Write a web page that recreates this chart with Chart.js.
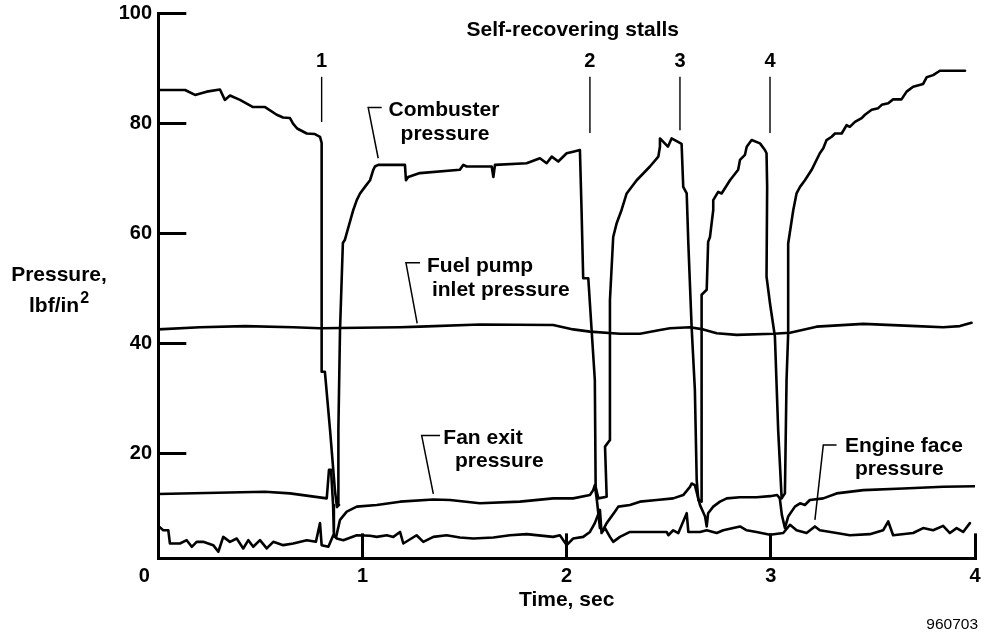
<!DOCTYPE html>
<html>
<head>
<meta charset="utf-8">
<script src="https://cdn.jsdelivr.net/npm/chart.js@4.4.1/dist/chart.umd.min.js"></script>
<style>
  html, body { margin: 0; padding: 0; background: #fff; }
  #wrap { width: 986px; height: 635px; position: relative; }
</style>
</head>
<body>
<div id="wrap"><canvas id="c"></canvas></div>
<script>
// ---- Data (time in sec, pressure in lbf/in^2) ----
const xTicks = [0, 1, 2, 3, 4];
const yTicks = [20, 40, 60, 80, 100];

const combTime = [0,0.131,0.180,0.237,0.302,0.326,0.351,0.400,0.464,0.523,0.580,0.611,0.645,0.660,0.680,0.727,0.767,0.792,0.800,0.800,0.816,0.841,0.865,0.875,0.885,0.882,0.890,0.904,0.914,0.955,0.972,0.988,1.012,1.037,1.053,1.061,1.077,1.208,1.213,1.224,1.281,1.477,1.494,1.510,1.633,1.641,1.649,1.804,1.869,1.902,1.927,1.959,2.000,2.032,2.065,2.073,2.081,2.106,2.138,2.142,2.155,2.196,2.188,2.212,2.212,2.212,2.228,2.245,2.269,2.294,2.343,2.408,2.449,2.457,2.457,2.496,2.514,2.563,2.571,2.588,2.596,2.612,2.628,2.637,2.645,2.661,2.661,2.686,2.693,2.702,2.718,2.718,2.742,2.759,2.800,2.840,2.849,2.873,2.882,2.906,2.947,2.971,2.979,2.982,2.979,2.996,3.020,3.036,3.053,3.069,3.077,3.085,3.085,3.110,3.126,3.143,3.167,3.200,3.240,3.257,3.273,3.298,3.314,3.347,3.371,3.387,3.412,3.445,3.461,3.494,3.526,3.543,3.575,3.599,3.640,3.665,3.697,3.746,3.763,3.795,3.828,3.951];
const combPressure = [86.1,86.1,85.2,85.8,86.2,84.3,85.1,84.3,83.0,83.0,81.6,81.1,81.0,80.0,79.1,78.2,78.1,77.6,76.5,34.9,34.9,24.4,13.4,10.3,10.7,24.3,42.5,58.3,58.9,64.3,66.1,67.3,68.5,69.7,71.6,72.2,72.5,72.5,69.7,70.3,71.0,71.6,72.5,72.2,72.2,70.3,72.5,72.8,73.7,72.8,74.0,73.1,74.6,74.9,75.2,64.3,51.9,51.9,33.4,14.0,11.9,12.2,21.3,22.5,33.4,47.9,59.4,61.9,64.3,67.3,69.7,72.2,74.0,75.8,77.3,75.8,77.3,76.3,68.5,67.3,58.2,43.1,31.6,15.2,11.6,11.3,48.9,49.8,58.5,59.4,64.3,66.1,67.6,67.3,69.7,71.6,73.4,74.3,75.8,77.0,76.4,75.2,74.6,68.5,52.2,47.3,41.3,24.3,11.9,12.8,33.4,41.9,58.2,64.3,67.3,68.5,69.7,71.6,74.6,75.5,77.0,77.6,78.2,78.2,79.7,79.4,80.3,81.0,81.6,82.5,82.8,83.4,83.7,84.4,84.4,85.8,86.7,87.2,88.4,88.8,89.6,89.6];

const fuelTime = [0,0.204,0.425,0.661,0.792,1.184,1.282,1.575,1.934,2.032,2.114,2.261,2.359,2.457,2.506,2.604,2.669,2.735,2.833,3.012,3.094,3.224,3.453,3.714,3.844,3.926,3.983];
const fuelPressure = [42.6,43.0,43.2,43.0,42.8,43.0,43.1,43.5,43.4,42.6,42.2,41.8,41.8,42.5,42.8,43.0,42.6,41.9,41.6,41.8,42.0,43.1,43.6,43.2,43.0,43.2,43.8];

const fanTime = [0,0.522,0.645,0.825,0.836,0.846,0.856,0.860,0.871,0.890,0.923,0.972,1.070,1.184,1.347,1.429,1.575,1.771,1.934,2.032,2.114,2.130,2.138,2.148,2.163,2.177,2.196,2.237,2.253,2.310,2.359,2.441,2.522,2.571,2.604,2.612,2.628,2.653,2.678,2.686,2.693,2.718,2.751,2.784,2.849,2.930,2.996,3.031,3.044,3.054,3.069,3.085,3.118,3.143,3.167,3.191,3.257,3.322,3.453,3.648,3.844,4.0];
const fanPressure = [12.7,13.1,12.8,11.9,17.1,17.1,10.7,5.2,4.9,8.0,9.5,10.4,10.7,11.3,11.7,11.6,11.0,11.3,11.9,11.9,12.5,13.4,14.3,11.6,6.5,6.1,7.4,9.5,10.4,10.7,11.3,11.6,11.9,12.5,14.0,14.6,14.3,10.7,8.6,6.8,9.2,10.4,11.3,11.9,12.1,12.1,12.3,12.5,11.9,8.9,6.5,8.6,10.4,11.0,10.7,11.6,11.9,12.8,13.4,13.7,14.0,14.1];

const faceTime = [0,0.024,0.049,0.057,0.106,0.139,0.164,0.188,0.220,0.269,0.294,0.318,0.351,0.384,0.416,0.441,0.465,0.498,0.531,0.563,0.612,0.661,0.727,0.772,0.792,0.800,0.833,0.857,0.874,0.906,0.972,1.037,1.070,1.119,1.151,1.184,1.200,1.265,1.298,1.347,1.412,1.477,1.543,1.641,1.722,1.804,1.934,1.967,2.000,2.032,2.081,2.114,2.138,2.163,2.171,2.188,2.212,2.228,2.261,2.310,2.408,2.490,2.498,2.522,2.547,2.588,2.596,2.653,2.686,2.735,2.767,2.849,2.882,2.930,2.996,3.061,3.094,3.126,3.175,3.216,3.240,3.322,3.387,3.485,3.550,3.575,3.599,3.697,3.746,3.795,3.844,3.877,3.910,3.942,3.975];
const facePressure = [6.9,6.1,6.1,3.7,3.7,4.3,3.1,4.0,4.0,3.4,2.2,4.9,4.0,4.6,2.8,4.3,3.1,4.3,2.8,4.0,3.4,3.7,4.3,4.0,7.4,3.4,3.1,5.2,4.6,4.3,5.2,5.1,4.9,5.2,4.9,5.8,3.7,5.2,4.0,4.9,5.2,4.8,4.6,4.8,5.2,5.4,4.9,5.2,3.4,4.6,4.9,5.8,7.4,9.8,5.6,6.5,4.9,4.0,4.9,5.8,5.8,5.8,5.2,6.1,5.6,9.2,5.8,5.8,6.1,5.6,6.1,6.8,6.1,5.8,5.3,5.6,7.1,6.1,5.6,6.8,6.1,5.6,5.2,5.4,6.1,7.7,5.2,5.6,6.5,6.1,6.9,5.6,6.5,5.8,7.4];

const stallLabels = ['1', '2', '3', '4'];
const stallTimes = [0.800, 2.114, 2.555, 2.996];

// ---- Build chart ----
const FAMILY = '"Liberation Sans", Arial, Helvetica, sans-serif';
Chart.defaults.color = '#000';
Chart.defaults.font.family = FAMILY;

function zip(t, p) { const n = Math.min(t.length, p.length); const out = []; for (let i = 0; i < n; i++) out.push({x: t[i], y: p[i]}); return out; }
function series(label, t, p) {
  return { label, data: zip(t, p), borderColor: '#000', borderWidth: 2.6, pointRadius: 0, tension: 0, fill: false, borderJoinStyle: 'round', borderCapStyle: 'round' };
}

const annotations = {
  title: { text: 'Self-recovering stalls', x: 2.030, y: 97.0 },
  stallLabelY: 91.2, stallLineTop: 88.5, stallLineBottom: [80.3, 78.3, 78.8, 78.3],
  notes: [
    { lines: [['Combuster', 1.399, 82.47], ['pressure', 1.404, 78.1]], align: 'center', leader: [[1.094, 82.9], [1.028, 82.9], [1.077, 73.7]] },
    { lines: [['Fuel pump', 1.316, 54.0], ['inlet pressure', 1.340, 49.8]], align: 'left', leader: [[1.282, 54.7], [1.213, 54.7], [1.268, 43.7]] },
    { lines: [['Fan exit', 1.396, 22.8], ['pressure', 1.453, 18.6]], align: 'left', leader: [[1.380, 23.3], [1.290, 23.3], [1.347, 12.7]] },
    { lines: [['Engine face', 3.363, 21.4], ['pressure', 3.412, 17.2]], align: 'left', leader: [[3.322, 21.6], [3.257, 21.6], [3.216, 8.0]] }
  ]
};

const annotPlugin = {
  id: 'annot',
  afterDraw(chart) {
    const {ctx, scales: {x, y}} = chart;
    const X = v => x.getPixelForValue(v), Y = v => y.getPixelForValue(v);
    ctx.save();
    ctx.fillStyle = '#000';
    ctx.strokeStyle = '#000';
    ctx.textBaseline = 'middle';
    ctx.font = 'bold 21px ' + FAMILY;
    ctx.textAlign = 'center';
    ctx.fillText(annotations.title.text, X(annotations.title.x), Y(annotations.title.y));
    ctx.font = 'bold 20px ' + FAMILY;
    ctx.lineWidth = 1.4;
    stallTimes.forEach((t, i) => {
      ctx.fillText(stallLabels[i], X(t), Y(annotations.stallLabelY));
      ctx.beginPath();
      ctx.moveTo(X(t), Y(annotations.stallLineTop));
      ctx.lineTo(X(t), Y(annotations.stallLineBottom[i]));
      ctx.stroke();
    });
    ctx.font = 'bold 21px ' + FAMILY;
    annotations.notes.forEach(n => {
      ctx.textAlign = n.align;
      n.lines.forEach(([txt, tx, ty]) => { ctx.fillText(txt, X(tx), Y(ty)); });
      ctx.lineWidth = 1.5;
      ctx.beginPath();
      n.leader.forEach(([lx, ly], k) => { if (k === 0) ctx.moveTo(X(lx), Y(ly)); else ctx.lineTo(X(lx), Y(ly)); });
      ctx.stroke();
    });
    // y-axis title (horizontal)
    ctx.textAlign = 'center';
    ctx.font = 'bold 21px ' + FAMILY;
    const cx = 59;
    ctx.fillText('Pressure,', cx, 275);
    const base = 'lbf/in';
    const wBase = ctx.measureText(base).width;
    ctx.font = 'bold 16px ' + FAMILY;
    const wSup = ctx.measureText('2').width;
    const startX = cx - (wBase + wSup + 1) / 2;
    ctx.textAlign = 'left';
    ctx.font = 'bold 21px ' + FAMILY;
    ctx.fillText(base, startX, 306);
    ctx.font = 'bold 16px ' + FAMILY;
    ctx.fillText('2', startX + wBase + 1, 299);
    ctx.textAlign = 'right';
    ctx.font = '15.5px ' + FAMILY;
    ctx.fillText('960703', 978, 625);
    ctx.restore();
  }
};

new Chart(document.getElementById('c'), {
  type: 'line',
  data: {
    datasets: [
      series('Combuster pressure', combTime, combPressure),
      series('Fuel pump inlet pressure', fuelTime, fuelPressure),
      series('Fan exit pressure', fanTime, fanPressure),
      series('Engine face pressure', faceTime, facePressure)
    ]
  },
  options: {
    responsive: true,
    maintainAspectRatio: false,
    animation: false,
    layout: { padding: { top: 13.5, right: 11, left: 0, bottom: 0 } },
    plugins: { legend: { display: false }, tooltip: { enabled: false }, title: { display: false } },
    scales: {
      x: {
        type: 'linear', min: 0, max: 4,
        afterBuildTicks: s => { s.ticks = xTicks.map(v => ({ value: v })); },
        afterFit: s => { s.height = 635 - 558.35; s.paddingLeft = 0; s.paddingRight = 0; },
        ticks: {
          callback: v => (v === 0 ? '0     ' : String(v)),
          font: { size: 20, weight: 'bold', family: FAMILY }, color: '#000',
          padding: 31.6, maxRotation: 0, autoSkip: false
        },
        grid: { drawOnChartArea: false, drawTicks: true, tickLength: -25, color: '#000', lineWidth: 3 },
        border: { display: true, color: '#000', width: 3 },
        title: { display: true, text: 'Time, sec', color: '#000', font: { size: 21, weight: 'bold', family: FAMILY }, padding: { top: 0, bottom: 22 } }
      },
      y: {
        type: 'linear', min: 1, max: 100,
        afterBuildTicks: s => { s.ticks = yTicks.map(v => ({ value: v })); },
        afterFit: s => { s.width = 158.3; s.paddingTop = 0; s.paddingBottom = 0; },
        ticks: { font: { size: 20, weight: 'bold', family: FAMILY }, color: '#000', padding: 34.3 },
        grid: { drawOnChartArea: false, drawTicks: true, tickLength: -28, color: '#000', lineWidth: 3 },
        border: { display: true, color: '#000', width: 3 }
      }
    }
  },
  plugins: [annotPlugin]
});
</script>
</body>
</html>
